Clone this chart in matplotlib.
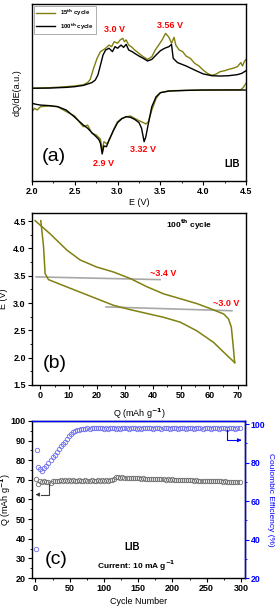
import numpy as np
import matplotlib
matplotlib.use("Agg")
import matplotlib.pyplot as plt
from matplotlib.ticker import MultipleLocator

plt.rcParams['font.family'] = ['Liberation Sans', 'DejaVu Sans']
plt.rcParams['font.weight'] = 'bold'
plt.rcParams['mathtext.default'] = 'bf'
plt.rcParams['axes.linewidth'] = 1.0

OLIVE = '#808010'

# %% panel (a): dQ/dE, arbitrary units
e_c15 = [2.0, 2.2, 2.4, 2.5, 2.6, 2.65, 2.68, 2.72, 2.76, 2.8, 2.83, 2.86, 2.9, 2.93, 2.96,
         3.0, 3.03, 3.06, 3.08, 3.1, 3.13, 3.16, 3.2, 3.25, 3.3, 3.35, 3.4, 3.44, 3.48, 3.52,
         3.56, 3.6, 3.63, 3.66, 3.68, 3.72, 3.76, 3.8, 3.85, 3.9, 3.95, 4.0, 4.05, 4.1, 4.15,
         4.2, 4.25, 4.3, 4.35, 4.4, 4.44, 4.46, 4.48, 4.5]
q_c15 = [5.24, 5.27, 5.33, 5.37, 5.44, 5.56, 5.74, 6.37, 6.93, 7.31, 7.40, 7.50, 7.68, 7.59, 7.87,
         7.78, 7.97, 8.06, 7.87, 7.97, 7.68, 7.59, 7.40, 7.21, 7.02, 6.87, 7.02, 7.40, 7.68, 7.97,
         8.34, 8.12, 7.78, 8.12, 7.68, 7.40, 7.31, 7.06, 6.93, 6.65, 6.50, 6.27, 6.08, 5.97, 6.04,
         6.18, 6.23, 6.31, 6.37, 6.46, 6.69, 6.50, 6.74, 6.87]

e_c100 = [2.0, 2.2, 2.4, 2.5, 2.6, 2.7, 2.74, 2.77, 2.8, 2.83, 2.86, 2.9, 2.94, 2.97, 3.0,
          3.04, 3.07, 3.1, 3.13, 3.17, 3.2, 3.25, 3.3, 3.35, 3.4, 3.45, 3.5, 3.55, 3.6, 3.63,
          3.65, 3.7, 3.8, 3.9, 4.0, 4.1, 4.2, 4.3, 4.4, 4.45, 4.5]
q_c100 = [5.24, 5.25, 5.29, 5.33, 5.40, 5.56, 5.71, 5.99, 6.55, 7.12, 7.40, 7.50, 7.31, 7.59, 7.50,
          7.68, 7.55, 7.72, 7.40, 7.31, 7.21, 7.06, 6.93, 6.78, 6.87, 7.12, 7.36, 7.50, 7.59, 7.72,
          6.93, 6.69, 6.50, 6.27, 6.05, 5.95, 5.93, 5.95, 6.01, 6.08, 6.23]

e_d100 = [2.0, 2.05, 2.1, 2.2, 2.3, 2.4, 2.5, 2.6, 2.65, 2.7, 2.75, 2.78, 2.8, 2.82, 2.84,
          2.87, 2.9, 2.95, 3.0, 3.05, 3.1, 3.15, 3.2, 3.25, 3.28, 3.31, 3.33, 3.36, 3.4, 3.45,
          3.5, 3.6, 3.8, 4.0, 4.3, 4.5]
q_d100 = [4.39, 4.33, 4.29, 4.26, 4.20, 4.01, 3.60, 3.16, 2.98, 2.73, 2.50, 2.35, 2.13, 1.53, 1.98,
          1.94, 2.32, 2.84, 3.30, 3.52, 3.63, 3.60, 3.48, 3.30, 2.98, 2.22, 2.50, 3.26, 4.20, 4.76,
          4.99, 5.08, 5.12, 5.14, 5.14, 5.14]

e_d15 = [2.0, 2.03, 2.06, 2.1, 2.2, 2.3, 2.4, 2.5, 2.55, 2.6, 2.65, 2.7, 2.75, 2.8, 2.82,
         2.84, 2.88, 2.92, 2.96, 3.0, 3.05, 3.1, 3.15, 3.2, 3.25, 3.3, 3.33, 3.36, 3.4, 3.45,
         3.5, 3.6, 4.0, 4.44, 4.47, 4.5]
q_d15 = [3.92, 4.11, 4.01, 4.20, 4.24, 4.20, 3.92, 3.67, 3.35, 3.07, 3.16, 2.69, 2.60, 2.35, 1.71,
         2.22, 2.09, 2.50, 2.98, 3.35, 3.54, 3.63, 3.67, 3.54, 3.41, 3.30, 3.22, 3.35, 4.01, 4.67,
         4.99, 5.10, 5.14, 5.16, 5.29, 5.52]

# %% panel (b): 100th cycle voltage profile
q_dis = [-1.9, 3.4, 9.4, 14.1, 20.0, 25.9, 31.9, 37.8, 43.7, 49.7, 55.6, 60.3, 65.1, 66.8,
         67.8, 68.4, 69.0]
v_dis = [4.51, 4.27, 3.97, 3.79, 3.66, 3.57, 3.45, 3.30, 3.17, 3.08, 2.99, 2.90, 2.80, 2.71,
         2.56, 2.25, 1.91]
q_chg = [69.0, 65.1, 61.5, 55.6, 49.7, 43.7, 37.8, 31.9, 25.9, 20.0, 14.1, 8.2, 2.84, 1.66,
         1.07, 0.12]
v_chg = [1.91, 2.10, 2.28, 2.49, 2.65, 2.74, 2.81, 2.88, 2.96, 3.08, 3.20, 3.32, 3.43, 3.54,
         4.05, 4.51]
guide1_q, guide1_v = [-1.5, 42.5], [3.48, 3.43]
guide2_q, guide2_v = [23.3, 68.0], [2.93, 2.86]

# %% panel (c): cycling
cycles = np.arange(1, 300, 3)
capacity = [70.5, 68.0, 69.5, 69.0, 69.3, 68.8, 69.0, 68.5, 69.2, 69.5,
            69.6, 69.4, 69.8, 69.6, 69.7, 69.5, 69.8, 69.6, 69.7, 69.5,
            69.6, 69.7, 69.5, 69.6, 69.8, 69.5, 69.6, 69.7, 69.5, 69.6,
            69.8, 69.5, 69.7, 69.6, 69.8, 69.5, 69.7, 69.9, 70.2, 71.6,
            71.4, 71.2, 71.3, 71.0, 71.1, 70.9, 71.0, 70.8, 70.9, 70.7,
            70.8, 70.6, 70.7, 70.5, 70.6, 70.4, 70.6, 70.3, 70.5, 70.3,
            70.4, 70.2, 70.3, 70.1, 70.2, 70.0, 70.2, 69.9, 70.1, 69.9,
            70.0, 69.8, 69.9, 69.7, 69.9, 69.7, 69.8, 69.6, 69.7, 69.5,
            69.6, 69.5, 69.6, 69.4, 69.5, 69.3, 69.4, 69.2, 69.4, 69.2,
            69.3, 69.1, 69.2, 69.0, 69.1, 68.9, 69.0, 68.8, 68.9, 68.7]
efficiency = [35.2, 78.0, 76.5, 75.8, 77.0, 78.5, 80.0, 81.5, 82.8, 84.0,
              85.5, 87.0, 88.5, 89.8, 91.0, 92.5, 93.8, 94.8, 95.8, 96.3,
              96.8, 97.0, 97.3, 97.5, 97.6, 97.8, 97.7, 98.0, 98.2, 97.8,
              98.3, 97.9, 98.1, 97.7, 98.0, 97.6, 98.1, 97.8, 98.2, 97.7,
              98.0, 97.6, 98.1, 97.9, 98.3, 97.7, 98.0, 97.8, 98.2, 97.6,
              98.0, 97.7, 98.1, 97.9, 98.3, 97.8, 98.0, 97.6, 98.2, 97.8,
              98.1, 97.7, 98.0, 97.9, 98.2, 97.6, 98.0, 97.8, 98.1, 97.7,
              98.2, 97.8, 98.0, 97.6, 98.1, 97.9, 98.2, 97.7, 98.0, 97.8,
              98.1, 97.6, 98.0, 97.9, 98.2, 97.7, 98.0, 97.8, 98.1, 97.6,
              98.0, 97.8, 98.2, 97.7, 98.0, 97.9, 98.1, 97.6, 98.0, 97.8]
extra_cycle, extra_eff = [3], [86.5]

fig = plt.figure(figsize=(2.75, 6.06), dpi=100)

LAB = 6.5  # axis label size


def style_ticks(ax):
    ax.tick_params(which='major', length=3, direction='out', labelsize=6.5, width=0.8, pad=1.5)
    ax.tick_params(which='minor', length=1.6, direction='out', width=0.6)


# ---- (a)
axa = fig.add_axes([0.1164, 0.7013, 0.778, 0.2921])
axa.plot(e_c15, q_c15, color=OLIVE, lw=1.0, label='15$^{th}$ cycle')
axa.plot(e_c100, q_c100, color='black', lw=1.0, label='100$^{th}$ cycle')
axa.plot(e_d15, q_d15, color=OLIVE, lw=1.0)
axa.plot(e_d100, q_d100, color='black', lw=1.0)
axa.set_xlim(2.0, 4.5)
axa.set_ylim(0, 10)
axa.set_yticks([])
axa.xaxis.set_major_locator(MultipleLocator(0.5))
axa.xaxis.set_minor_locator(MultipleLocator(0.25))
style_ticks(axa)
axa.set_xlabel('E (V)', fontsize=LAB)
axa.xaxis.set_label_coords(0.5, -0.095)
axa.set_ylabel('dQ/dE(a.u.)', fontsize=LAB)
axa.yaxis.set_label_coords(-0.05, 0.5)
leg = axa.legend(loc='upper left', fontsize=4.3, handlelength=3.2, borderpad=0.4,
                 labelspacing=0.5, fancybox=False, edgecolor='#888888',
                 bbox_to_anchor=(0.0, 1.0), borderaxespad=0.3)
leg.get_frame().set_linewidth(0.6)
axa.text(2.96, 8.57, '3.0 V', color='red', fontsize=6.5, ha='center', va='center')
axa.text(3.61, 8.76, '3.56 V', color='red', fontsize=6.5, ha='center', va='center')
axa.text(2.84, 1.0, '2.9 V', color='red', fontsize=6.5, ha='center', va='center')
axa.text(3.30, 1.79, '3.32 V', color='red', fontsize=6.5, ha='center', va='center')
axa.text(4.34, 0.94, 'LIB', fontsize=7, ha='center', va='center')
axa.text(2.25, 1.37, '(a)', fontsize=14, fontweight='normal', ha='center', va='center')

# ---- (b)
axb = fig.add_axes([0.1164, 0.3647, 0.778, 0.2838])
axb.plot(guide1_q, guide1_v, color='#a8a8a8', lw=1.2)
axb.plot(guide2_q, guide2_v, color='#a8a8a8', lw=1.2)
axb.plot(q_dis, v_dis, color=OLIVE, lw=1.1)
axb.plot(q_chg, v_chg, color=OLIVE, lw=1.1)
axb.set_xlim(-3, 73)
axb.set_ylim(1.5, 4.65)
axb.xaxis.set_major_locator(MultipleLocator(10))
axb.xaxis.set_minor_locator(MultipleLocator(5))
axb.yaxis.set_major_locator(MultipleLocator(0.5))
axb.yaxis.set_minor_locator(MultipleLocator(0.25))
style_ticks(axb)
axb.set_xlabel('Q (mAh g$^{-1}$)', fontsize=LAB)
axb.xaxis.set_label_coords(0.5, -0.125)
axb.set_ylabel('E (V)', fontsize=LAB)
axb.yaxis.set_label_coords(-0.11, 0.5)
axb.text(43.5, 3.55, '~3.4 V', color='red', fontsize=6.5, ha='center', va='center')
axb.text(66.0, 3.0, '~3.0 V', color='red', fontsize=6.5, ha='center', va='center')
axb.text(52.7, 4.44, '100$^{th}$ cycle', fontsize=6, ha='center', va='center')
axb.text(5.2, 1.90, '(b)', fontsize=14, fontweight='normal', ha='center', va='center')

# ---- (c)
axc = fig.add_axes([0.1164, 0.0462, 0.7745, 0.2591])
axc.plot(cycles, capacity, ls='none', marker='o', ms=3.2, mfc='none', mec='#707070', mew=0.6)
axc.set_xlim(-5, 306)
axc.set_ylim(20, 100)
axc.xaxis.set_major_locator(MultipleLocator(50))
axc.xaxis.set_minor_locator(MultipleLocator(25))
axc.yaxis.set_major_locator(MultipleLocator(10))
axc.yaxis.set_minor_locator(MultipleLocator(5))
style_ticks(axc)
axc.set_xlabel('Cycle Number', fontsize=LAB)
axc.xaxis.set_label_coords(0.5, -0.12)
axc.set_ylabel('Q (mAh g$^{-1}$)', fontsize=LAB)
axc.yaxis.set_label_coords(-0.088, 0.5)
axc.plot([20.4, 20.4, 8], [68.0, 62.5, 62.5], color='#404040', lw=0.8)
axc.annotate('', xy=(-4, 62.5), xytext=(9, 62.5),
             arrowprops=dict(arrowstyle='-|>', color='#404040', lw=0.8, mutation_scale=5))
axc.text(141.5, 36.0, 'LIB', fontsize=7, ha='center', va='center')
axc.text(148, 26.4, 'Current: 10 mA g$^{-1}$', fontsize=6, ha='center', va='center')
axc.text(30, 29.3, '(c)', fontsize=14, fontweight='normal', ha='center', va='center')

axd = axc.twinx()
axd.plot(cycles, efficiency, ls='none', marker='o', ms=3.2, mfc='none', mec='#7070ee', mew=0.6)
axd.plot(extra_cycle, extra_eff, ls='none', marker='o', ms=3.2, mfc='none', mec='#7070ee', mew=0.6)
axd.set_ylim(20, 101.7)
axd.yaxis.set_major_locator(MultipleLocator(20))
axd.yaxis.set_minor_locator(MultipleLocator(10))
style_ticks(axd)
axd.tick_params(axis='y', which='both', colors='blue', labelsize=6.3, pad=1)
axd.spines['right'].set_color('blue')
axd.spines['top'].set_color('blue')
axd.spines['left'].set_visible(False)
axd.spines['bottom'].set_visible(False)
axd.set_ylabel('Coulombic Efficiency (%)', fontsize=6, color='blue', rotation=270, va='center')
axd.yaxis.set_label_coords(1.118, 0.5)
axd.plot([280, 280, 295], [97.0, 91.7, 91.7], color='blue', lw=0.8)
axd.annotate('', xy=(305, 91.7), xytext=(294, 91.7),
             arrowprops=dict(arrowstyle='-|>', color='blue', lw=0.8, mutation_scale=5))

fig.savefig('out.png', dpi=100)
